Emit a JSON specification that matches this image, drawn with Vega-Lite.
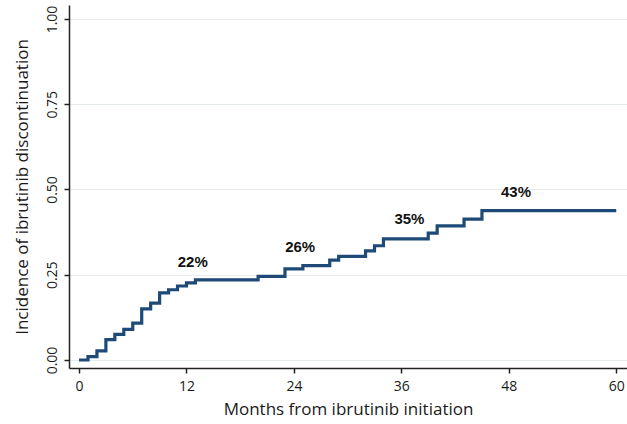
{
  "$schema": "https://vega.github.io/schema/vega-lite/v6.json",
  "width": 558,
  "height": 363,
  "autosize": {"type": "none"},
  "padding": {"left": 69, "top": 5, "right": 0, "bottom": 56},
  "background": "white",
  "config": {
    "view": {"stroke": null},
    "axis": {
      "labelFont": "Open Sans",
      "titleFont": "Open Sans",
      "labelColor": "#1a1a1a",
      "titleColor": "#1a1a1a",
      "domainColor": "#222222",
      "tickColor": "#222222",
      "domainWidth": 1.5,
      "tickWidth": 1.5,
      "tickSize": 5,
      "labelFontSize": 14,
      "titleFontSize": 17,
      "titleFontWeight": "normal"
    }
  },
  "datasets": {
    "curve": [
      {"month": 0, "incidence": 0.0},
      {"month": 1, "incidence": 0.01},
      {"month": 2, "incidence": 0.027},
      {"month": 3, "incidence": 0.06},
      {"month": 4, "incidence": 0.075},
      {"month": 5, "incidence": 0.09},
      {"month": 6, "incidence": 0.108},
      {"month": 7, "incidence": 0.15},
      {"month": 8, "incidence": 0.167},
      {"month": 9, "incidence": 0.197},
      {"month": 10, "incidence": 0.206},
      {"month": 11, "incidence": 0.217},
      {"month": 12, "incidence": 0.226},
      {"month": 13, "incidence": 0.235},
      {"month": 20, "incidence": 0.245},
      {"month": 23, "incidence": 0.267},
      {"month": 25, "incidence": 0.277},
      {"month": 28, "incidence": 0.293},
      {"month": 29, "incidence": 0.304},
      {"month": 32, "incidence": 0.32},
      {"month": 33, "incidence": 0.335},
      {"month": 34, "incidence": 0.355},
      {"month": 39, "incidence": 0.372},
      {"month": 40, "incidence": 0.393},
      {"month": 43, "incidence": 0.413},
      {"month": 45, "incidence": 0.438},
      {"month": 60, "incidence": 0.438}
    ],
    "labels": [
      {"month": 12.7, "incidence": 0.288, "text": "22%"},
      {"month": 24.7, "incidence": 0.33, "text": "26%"},
      {"month": 36.9, "incidence": 0.413, "text": "35%"},
      {"month": 48.8, "incidence": 0.492, "text": "43%"}
    ]
  },
  "layer": [
    {
      "data": {"name": "curve"},
      "mark": {"type": "line", "interpolate": "step-after", "color": "#1e4a77", "strokeWidth": 3.2, "clip": false},
      "encoding": {
        "x": {
          "field": "month",
          "type": "quantitative",
          "scale": {"domain": [-1.12, 61.2], "nice": false, "zero": false},
          "axis": {
            "values": [0, 12, 24, 36, 48, 60],
            "title": "Months from ibrutinib initiation",
            "grid": false,
            "labelPadding": 6,
            "titlePadding": 8
          }
        },
        "y": {
          "field": "incidence",
          "type": "quantitative",
          "scale": {"domain": [-0.0235, 1.041], "nice": false, "zero": false},
          "axis": {
            "values": [0, 0.25, 0.5, 0.75, 1],
            "format": ".2f",
            "title": "Incidence of ibrutinib discontinuation",
            "grid": true,
            "gridColor": "#e6ebee",
            "gridWidth": 1,
            "labelAngle": -90,
            "labelAlign": "center",
            "labelBaseline": "bottom",
            "labelPadding": 5,
            "titlePadding": 14
          }
        }
      }
    },
    {
      "data": {"name": "labels"},
      "mark": {"type": "text", "font": "Liberation Sans", "fontWeight": "bold", "fontSize": 15, "color": "#111111", "align": "center", "baseline": "middle"},
      "encoding": {
        "x": {"field": "month", "type": "quantitative"},
        "y": {"field": "incidence", "type": "quantitative"},
        "text": {"field": "text"}
      }
    }
  ]
}
